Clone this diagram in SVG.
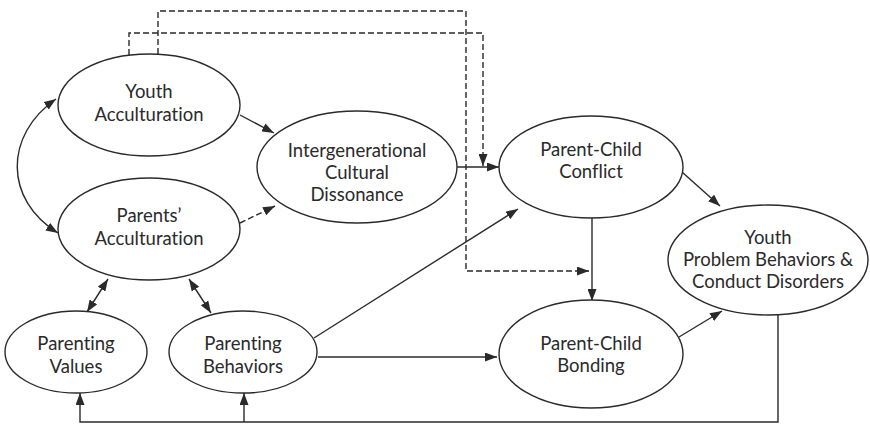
<svg xmlns="http://www.w3.org/2000/svg" width="870" height="426" viewBox="0 0 870 426">
<defs>
<marker id="ah" viewBox="0 0 12 10" refX="12" refY="5" markerWidth="12" markerHeight="9" markerUnits="userSpaceOnUse" orient="auto-start-reverse" preserveAspectRatio="none">
<path d="M0,0 L12,5 L0,10 z" fill="#2a2a2a"/>
</marker>
<style>
.n ellipse{fill:#fff;stroke:#2a2a2a;stroke-width:1.4}
.n text{font-family:Lato,"Open Sans",sans-serif;font-size:18.5px;fill:#2a2a2a;text-anchor:middle;font-variant-ligatures:none}
#edges path{fill:none;stroke:#2a2a2a;stroke-width:1.4}
#edges .d{stroke-dasharray:6 3}
</style>
</defs>
<rect width="870" height="426" fill="#fff"/>
<g id="edges">
<path class="d" d="M129,55 V33 H483 V166" marker-end="url(#ah)"/>
<path class="d" d="M158,54 V11 H466 V271 H589" marker-end="url(#ah)"/>
<path d="M240,115 L274,133" marker-end="url(#ah)"/>
<path class="d" d="M240,223 L275,206" marker-end="url(#ah)"/>
<path d="M56,99 C4,135 4,200 58,233" marker-start="url(#ah)" marker-end="url(#ah)"/>
<path d="M457,167 H499" marker-end="url(#ah)"/>
<path d="M682,172 L720,206" marker-end="url(#ah)"/>
<path d="M592,218 V301" marker-end="url(#ah)"/>
<path d="M314,338 L518,209" marker-end="url(#ah)"/>
<path d="M318,357 H497" marker-end="url(#ah)"/>
<path d="M679,337 L722,311" marker-end="url(#ah)"/>
<path d="M108,279 L87,312" marker-start="url(#ah)" marker-end="url(#ah)"/>
<path d="M189,279 L211,313" marker-start="url(#ah)" marker-end="url(#ah)"/>
<path d="M778,314 V422 H80 V393" marker-end="url(#ah)"/>
<path d="M244,422 V393" marker-end="url(#ah)"/>
</g>
<g id="youth-acc" class="n"><ellipse cx="149" cy="105" rx="91" ry="51"/><text x="149" y="98">Youth</text><text x="149" y="121">Acculturation</text></g>
<g id="parents-acc" class="n"><ellipse cx="149" cy="229" rx="91" ry="51"/><text x="149" y="222">Parents’</text><text x="149" y="245">Acculturation</text></g>
<g id="icd" class="n"><ellipse cx="357" cy="167" rx="100" ry="56"/><text x="357" y="157">Intergenerational</text><text x="357" y="179">Cultural</text><text x="357" y="201">Dissonance</text></g>
<g id="pcc" class="n"><ellipse cx="591" cy="167" rx="92" ry="51"/><text x="591" y="156">Parent-Child</text><text x="591" y="178">Conflict</text></g>
<g id="ypb" class="n"><ellipse cx="768" cy="260" rx="100" ry="55"/><text x="768" y="244">Youth</text><text x="768" y="266">Problem Behaviors &amp;</text><text x="768" y="288">Conduct Disorders</text></g>
<g id="pcb" class="n"><ellipse cx="591" cy="354" rx="92" ry="54"/><text x="591" y="350">Parent-Child</text><text x="591" y="372">Bonding</text></g>
<g id="pv" class="n"><ellipse cx="76" cy="352" rx="71" ry="41"/><text x="76" y="350">Parenting</text><text x="76" y="373">Values</text></g>
<g id="pb" class="n"><ellipse cx="243" cy="352" rx="74" ry="41"/><text x="243" y="350">Parenting</text><text x="243" y="373">Behaviors</text></g>
</svg>
